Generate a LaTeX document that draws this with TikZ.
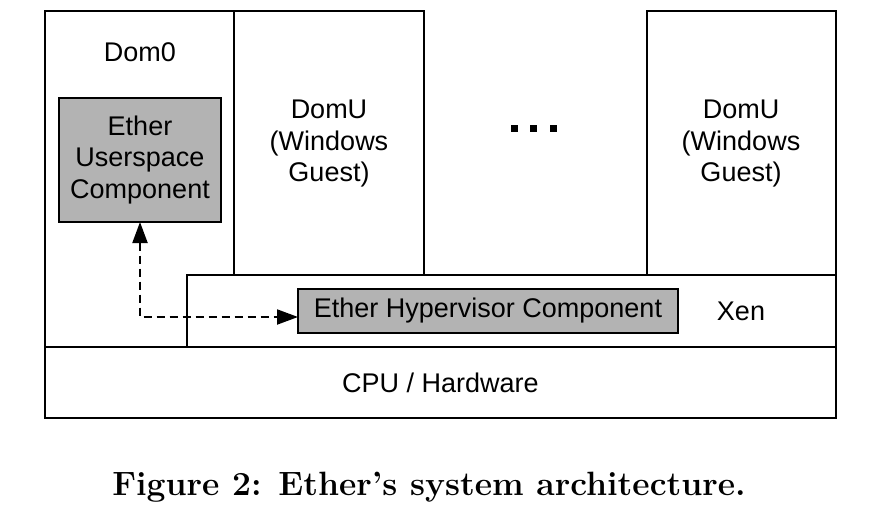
\documentclass[tikz,border=0pt]{standalone}
\usepackage{fontspec}
\newfontfamily\diagfont{Liberation Sans}
\usetikzlibrary{arrows.meta}
\definecolor{compgray}{RGB}{179,179,179}
\begin{document}
\begin{tikzpicture}[x=1pt,y=-1pt,
  box/.style={draw=black, line width=2pt, fill=white, inner sep=0pt, outer sep=0pt, anchor=north west},
  comp/.style={box, fill=compgray},
  lbl/.style={font=\diagfont\fontsize{27}{31.5}\selectfont, align=center, inner sep=0pt},
  arr/.style={line width=2pt, dash pattern=on 8pt off 5pt, {Triangle[length=21pt,width=15pt]}-{Triangle[length=21pt,width=15pt]}}
]
\useasboundingbox (0,0) rectangle (878,530);
% layers
\node[box, minimum width=189pt, minimum height=336pt] (dom0) at (45,11) {};
\node[box, minimum width=190pt, minimum height=264pt] (domu1) at (234,11) {};
\node[box, minimum width=189pt, minimum height=264pt] (domu2) at (647,11) {};
\node[box, minimum width=649pt, minimum height=72pt] (xen) at (187,275) {};
\node[box, minimum width=791pt, minimum height=71pt] (cpu) at (45,347) {};
% components
\node[comp, minimum width=162pt, minimum height=124pt] (us) at (59,98) {};
\node[comp, minimum width=380pt, minimum height=44pt] (hyp) at (298,289) {};
% labels
\node[lbl] (dom0lbl) at (140,52) {Dom0};
\node[lbl] (uslbl) at (us.center) {Ether\\Userspace\\Component};
\node[lbl] (domu1lbl) at (329,144) {DomU\\(Windows\\Guest)};
\node[lbl] (domu2lbl) at (741,144) {DomU\\(Windows\\Guest)};
\node[lbl] (hyplbl) at (hyp.center) {Ether Hypervisor Component};
\node[lbl] (xenlbl) at (741,311) {Xen};
\node[lbl] (cpulbl) at (cpu.center) {CPU / Hardware};
% dots
\foreach \i/\xx in {1/514,2/533,3/553}{
  \node[fill=black, minimum size=7pt, inner sep=0pt] (dot\i) at (\xx,128) {};
}
% arrow
\coordinate (corner) at (us.south |- 0,317);
\draw[arr] (us.south) -- (corner) -- (corner -| hyp.west);
% caption
\node[font=\bfseries\fontsize{33.7}{40}\selectfont, anchor=base, inner sep=0pt] (caption) at (429,495) {Figure 2: Ether's system architecture.};
\end{tikzpicture}
\end{document}
